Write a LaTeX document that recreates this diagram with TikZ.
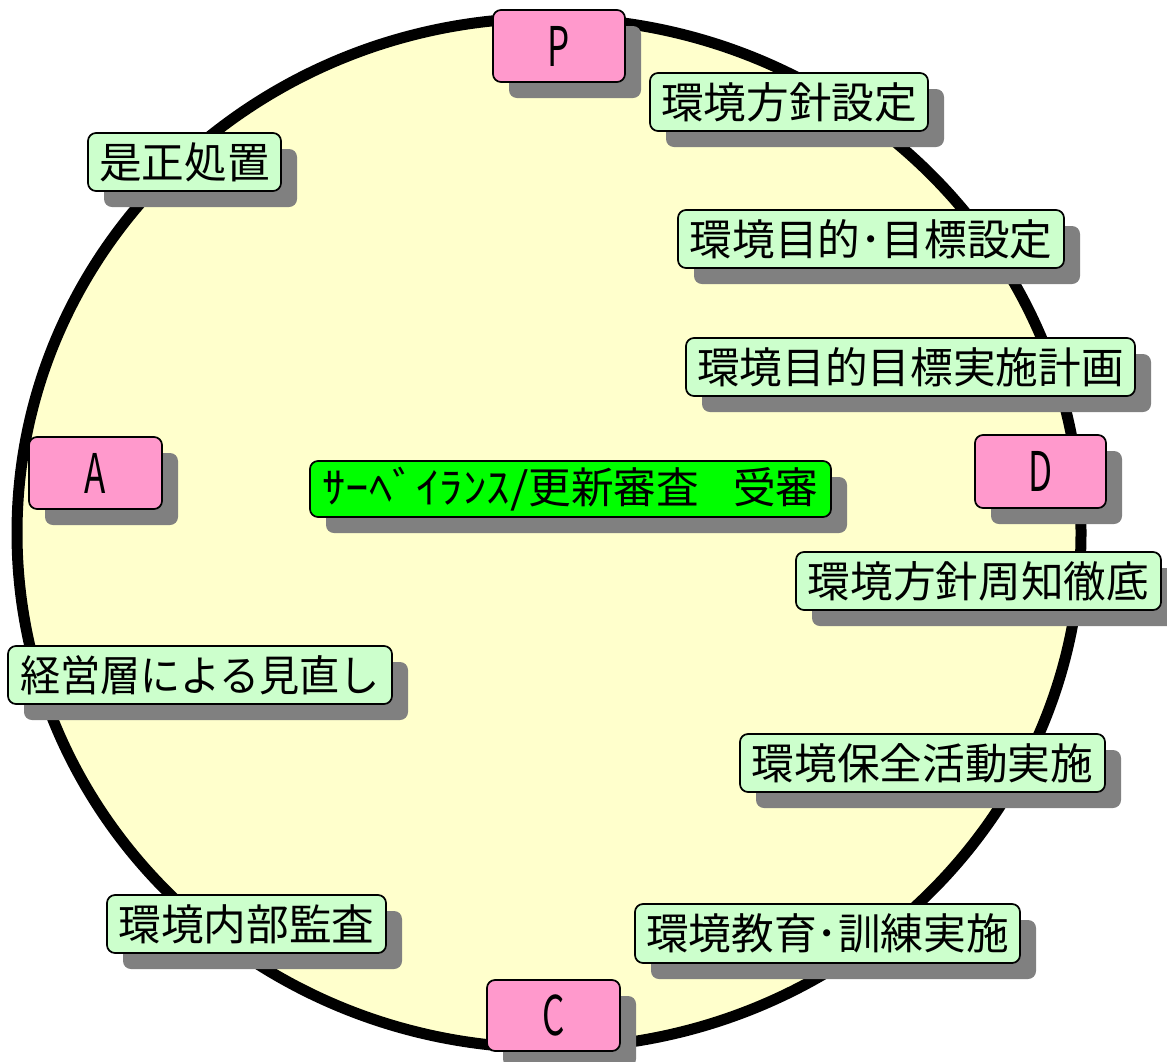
\documentclass[tikz,border=0pt]{standalone}
\usepackage{fontspec}
\usetikzlibrary{shadows,shapes.geometric}
\newfontfamily\jp{Noto Sans CJK JP}
\definecolor{bgyellow}{HTML}{FFFFCC}
\definecolor{pinkbox}{HTML}{FF99CC}
\definecolor{lgreen}{HTML}{CCFFCC}
\definecolor{bgreen}{HTML}{00FF00}
\definecolor{shadowgray}{HTML}{808080}
\tikzset{
  basebox/.style={draw=black, line width=1.3pt, rounded corners=6pt, inner sep=0pt,
    font=\jp\fontsize{32pt}{32pt}\selectfont,
    drop shadow={shadow xshift=12pt, shadow yshift=-12pt, fill=shadowgray, opacity=1}},
  phasebox/.style={basebox, fill=pinkbox},
  stepbox/.style={basebox, fill=lgreen},
  centerbox/.style={basebox, fill=bgreen},
}
\newcommand\mybox[7]{\node[#6, minimum width={(#4-#2)*0.75pt}, minimum height={(#5-#3)*0.75pt}] (#1) at ({(#2+#4)/2},{(#3+#5)/2}) {#7};}
\newcommand\ltr[1]{\scalebox{0.64}[1]{\fontsize{41pt}{41pt}\selectfont #1}}
\begin{document}
\begin{tikzpicture}[x=0.75pt,y=-0.75pt]
\useasboundingbox (0,0) rectangle (1167,1061);
\node[draw=black, line width=8.25pt, fill=bgyellow, ellipse, minimum width={1064*0.75pt}, minimum height={1030*0.75pt}, inner sep=0pt] (ring) at (549,533) {};
\mybox{p}{493}{10}{625}{82}{phasebox}{\ltr{P}}
\mybox{a}{29}{437}{162}{509}{phasebox}{\ltr{A}}
\mybox{d}{975}{435}{1106}{508}{phasebox}{\ltr{D}}
\mybox{c}{487}{980}{620}{1051}{phasebox}{\ltr{C}}
\mybox{t1}{650}{73}{928}{131}{stepbox}{環境方針設定}
\mybox{t2}{88}{133}{281}{191}{stepbox}{是正処置}
\mybox{t3}{678}{210}{1064}{268}{stepbox}{環境目的･目標設定}
\mybox{t4}{686}{338}{1135}{396}{stepbox}{環境目的目標実施計画}
\mybox{g}{310}{461}{831}{517}{centerbox}{\scalebox{1.1}[1]{ｻｰﾍﾞｲﾗﾝｽ/}更新審査\hspace{0.8em}受審}
\mybox{t5}{796}{552}{1161}{610}{stepbox}{環境方針周知徹底}
\mybox{t6}{8}{646}{392}{704}{stepbox}{\scalebox{0.94}[1]{経営層による見直し}}
\mybox{t7}{740}{734}{1105}{792}{stepbox}{環境保全活動実施}
\mybox{t8}{107}{895}{386}{953}{stepbox}{環境内部監査}
\mybox{t9}{635}{904}{1020}{963}{stepbox}{環境教育･訓練実施}
\end{tikzpicture}
\end{document}
